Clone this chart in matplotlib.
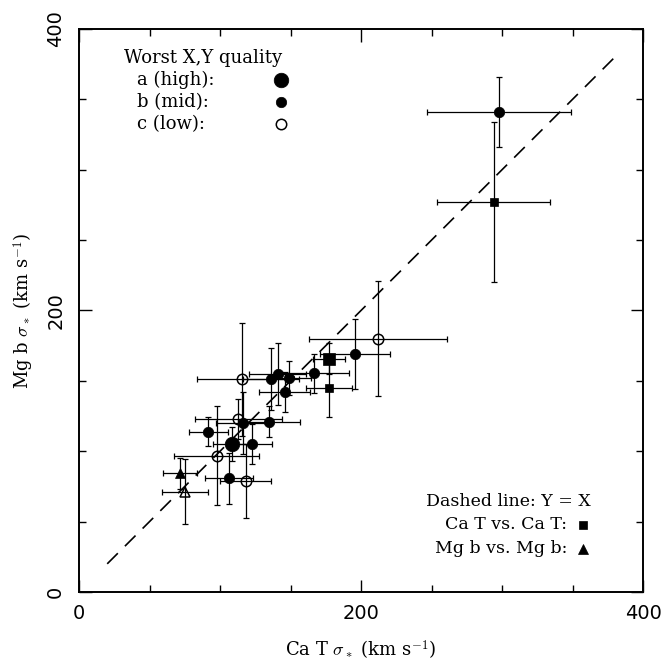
import matplotlib
matplotlib.use("Agg")
import matplotlib.pyplot as plt
import numpy as np

# ------------------------------------------------------
# Data (km/s)
# ------------------------------------------------------
# comparison type: "cross" = Ca T vs Mg b, "cat" = Ca T vs Ca T, "mgb" = Mg b vs Mg b
catt_sigma = [298.0, 211.8, 195.7, 166.7, 146.0, 136.2, 140.9, 149.2, 135.0, 123.0,
              108.3, 91.7, 106.4, 116.5, 115.4, 113.0, 97.6, 118.2,
              177.3, 177.3, 294.0,
              71.6, 75.2]
mgb_sigma = [341.0, 179.9, 169.0, 155.3, 142.0, 151.0, 154.8, 151.8, 121.0, 105.0,
             105.0, 114.0, 80.7, 120.0, 151.0, 123.0, 96.8, 78.8,
             165.7, 145.0, 277.0,
             84.5, 71.2]
catt_err = [51, 49, 25, 25, 18, 20, 20, 15, 22, 14,
            13, 14, 17, 19, 32, 31, 30, 18,
            11, 16, 40,
            12, 16]
mgb_err = [25, 41, 25, 14, 14, 22, 22, 12, 11, 14,
           12, 10, 18, 22, 40, 14, 35, 26,
           11, 21, 57,
           11, 23]
quality = ["b", "c", "b", "b", "b", "b", "b", "b", "b", "b",
           "a", "b", "b", "b", "c", "c", "c", "c",
           "a", "b", "b",
           "b", "c"]
comparison = ["cross"] * 18 + ["cat"] * 3 + ["mgb"] * 2

unity_range = [20, 380]

# ------------------------------------------------------
# Styles
# ------------------------------------------------------
SERIF = "DejaVu Serif"
plt.rcParams["mathtext.fontset"] = "cm"

SHAPES = {"cross": "o", "cat": "s", "mgb": "^"}
SIZES = {
    "o": {"a": 10.5, "b": 7.5, "c": 7.5},
    "s": {"a": 8.0, "b": 5.5, "c": 5.5},
    "^": {"a": 8.0, "b": 6.5, "c": 7.5},
}


def draw_marker(ax, x, y, shape, q, **kw):
    ms = SIZES[shape][q]
    if q == "c":
        ax.plot(x, y, marker=shape, ms=ms, mfc="none", mec="black", mew=1.1,
                ls="none", zorder=4, **kw)
    else:
        ax.plot(x, y, marker=shape, ms=ms, mfc="black", mec="black", mew=0.5,
                ls="none", zorder=4, **kw)


fig = plt.figure(figsize=(6.64, 6.68), dpi=100)
ax = fig.add_axes([0.119, 0.1138, 0.8494, 0.8428])

# error bars first
ax.errorbar(catt_sigma, mgb_sigma, xerr=catt_err, yerr=mgb_err, fmt="none",
            ecolor="black", elinewidth=0.9, capsize=2.4, capthick=0.9, zorder=2)

for x, y, q, c in zip(catt_sigma, mgb_sigma, quality, comparison):
    draw_marker(ax, x, y, SHAPES[c], q)

# Y = X
ax.plot(unity_range, unity_range, color="black", lw=1.2, dashes=(9, 6), zorder=1)

ax.set_xlim(0, 400)
ax.set_ylim(0, 400)
ax.set_xticks([0, 200, 400])
ax.set_yticks([0, 200, 400])
ax.set_xticks(np.arange(0, 401, 50), minor=True)
ax.set_yticks(np.arange(0, 401, 50), minor=True)
ax.tick_params(which="both", direction="in", top=True, right=True, width=1.0)
ax.tick_params(which="major", length=9, labelsize=14, pad=9)
ax.tick_params(which="minor", length=5)
ax.tick_params(axis="y", which="major", pad=10)
for lab in ax.get_yticklabels():
    lab.set_rotation(90)
    lab.set_va("center")
for sp in ax.spines.values():
    sp.set_linewidth(1.4)

ax.set_xlabel(r"Ca T $\sigma_*$ (km s$^{-1}$)", family=SERIF, fontsize=13, labelpad=11)
ax.set_ylabel(r"Mg b $\sigma_*$ (km s$^{-1}$)", family=SERIF, fontsize=13, labelpad=7)

# in-plot key, top left
tr = ax.transAxes
ax.text(0.0798, 0.9485, "Worst X,Y quality", transform=tr, family=SERIF, fontsize=13,
        ha="left", va="center")
key_rows = [("a (high):", "a", 0.909), ("b (mid):", "b", 0.870), ("c (low):", "c", 0.831)]
for label, q, fy in key_rows:
    ax.text(0.1028, fy, label, transform=tr, family=SERIF, fontsize=13, ha="left", va="center")
    draw_marker(ax, [0.358], [fy], "o", q, transform=tr, clip_on=False)

# in-plot key, bottom right
ax.text(0.908, 0.160, "Dashed line: Y = X", transform=tr, family=SERIF, fontsize=12.5,
        ha="right", va="center")
ax.text(0.865, 0.119, "Ca T vs. Ca T:", transform=tr, family=SERIF, fontsize=12.5,
        ha="right", va="center")
ax.text(0.865, 0.0764, "Mg b vs. Mg b:", transform=tr, family=SERIF, fontsize=12.5,
        ha="right", va="center")
draw_marker(ax, [0.894], [0.119], "s", "b", transform=tr, clip_on=False)
draw_marker(ax, [0.894], [0.0764], "^", "b", transform=tr, clip_on=False)

fig.savefig("out.png", dpi=100)
